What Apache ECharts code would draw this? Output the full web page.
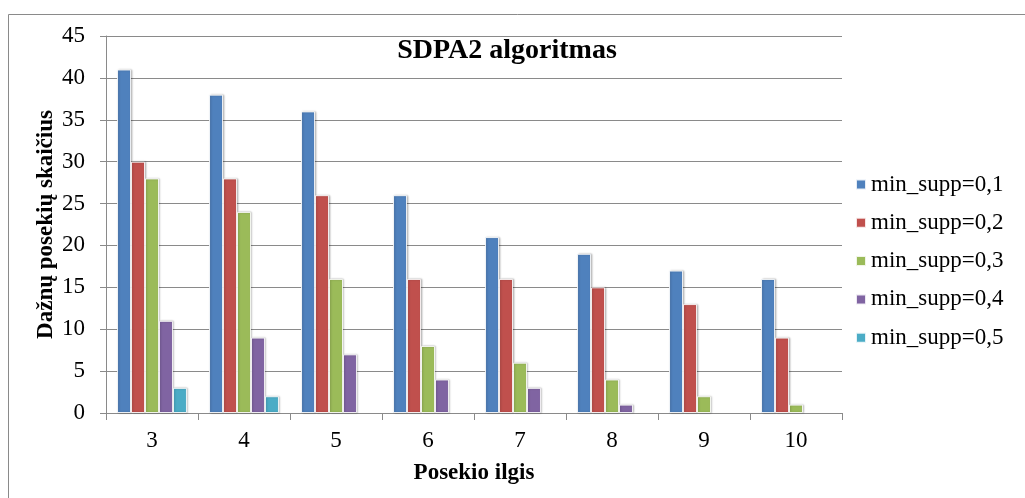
<!DOCTYPE html>
<html>
<head>
<meta charset="utf-8">
<script src="https://cdn.jsdelivr.net/npm/echarts@6/dist/echarts.min.js"></script>
<style>html,body{margin:0;padding:0;background:#fff}#c{width:1025px;height:498px}</style>
</head>
<body>
<div id="c"></div>
<script>
const categories = ['3', '4', '5', '6', '7', '8', '9', '10'];
const seriesNames = ['min_supp=0,1', 'min_supp=0,2', 'min_supp=0,3', 'min_supp=0,4', 'min_supp=0,5'];
const supp01 = [41, 38, 36, 26, 21, 19, 17, 16];
const supp02 = [30, 28, 26, 16, 16, 15, 13, 9];
const supp03 = [28, 24, 16, 8, 6, 4, 2, 1];
const supp04 = [11, 9, 7, 4, 3, 1, 0, 0];
const supp05 = [3, 2, 0, 0, 0, 0, 0, 0];
const yTicks = [0, 5, 10, 15, 20, 25, 30, 35, 40, 45];

const colors = ['#4F81BD', '#C0504D', '#9BBB59', '#8064A2', '#4BACC6'];
const allData = [supp01, supp02, supp03, supp04, supp05];
const font = 'Liberation Serif, Times New Roman, serif';

const chart = echarts.init(document.getElementById('c'), null, {renderer: 'canvas'});
chart.setOption({
  animation: false,
  color: colors,
  graphic: [{
    type: 'rect', shape: {x: 8.5, y: 14.5, width: 1030, height: 500},
    style: {fill: 'none', stroke: '#8a8a8a', lineWidth: 1}, z: -10
  }],
  title: {
    text: 'SDPA2 algoritmas', left: 507, top: 37, textAlign: 'center', padding: 0,
    textStyle: {fontFamily: font, fontSize: 28, fontWeight: 'bold', color: '#000'}
  },
  legend: {
    orient: 'vertical', left: 855, top: 173, padding: 0,
    itemWidth: 10, itemHeight: 10, itemGap: 15.3,
    icon: 'rect',
    textStyle: {fontFamily: font, fontSize: 23, color: '#000', lineHeight: 23},
    data: seriesNames
  },
  grid: {left: 106, right: 183, top: 36, bottom: 85},
  xAxis: {
    type: 'category', data: categories,
    name: 'Posekio ilgis', nameLocation: 'middle', nameGap: 49,
    nameMoveOverlap: false,
    nameTextStyle: {fontFamily: font, fontSize: 23, fontWeight: 'bold', color: '#000'},
    axisLine: {lineStyle: {color: '#8a8a8a', width: 1}},
    axisTick: {show: true, length: 7, lineStyle: {color: '#8a8a8a'}},
    axisLabel: {fontFamily: font, fontSize: 23, color: '#000', margin: 16}
  },
  yAxis: {
    type: 'value', min: 0, max: 45, interval: 5,
    name: 'Dažnų posekių skaičius', nameLocation: 'middle', nameGap: 48,
    nameMoveOverlap: false,
    nameTextStyle: {fontFamily: font, fontSize: 23, fontWeight: 'bold', color: '#000'},
    axisLine: {show: true, lineStyle: {color: '#8a8a8a', width: 1}},
    axisTick: {show: true, length: 6, lineStyle: {color: '#8a8a8a'}},
    axisLabel: {fontFamily: font, fontSize: 23, color: '#000', margin: 21,
      formatter: v => yTicks.includes(v) ? String(v) : ''},
    splitLine: {lineStyle: {color: '#8a8a8a', width: 1}}
  },
  series: seriesNames.map((n, i) => ({
    name: n, type: 'bar',
    data: allData[i].map(v => v === 0
      ? {value: v, itemStyle: {borderWidth: 0, shadowBlur: 0, shadowOffsetX: 0, opacity: 0}}
      : v),
    barGap: '0%', barCategoryGap: '24%',
    itemStyle: {
      color: colors[i], borderColor: 'rgba(255,255,255,0.85)', borderWidth: 1,
      shadowColor: 'rgba(0,0,0,0.25)', shadowBlur: 2, shadowOffsetX: 1, shadowOffsetY: 0
    }
  }))
});
</script>
</body>
</html>
